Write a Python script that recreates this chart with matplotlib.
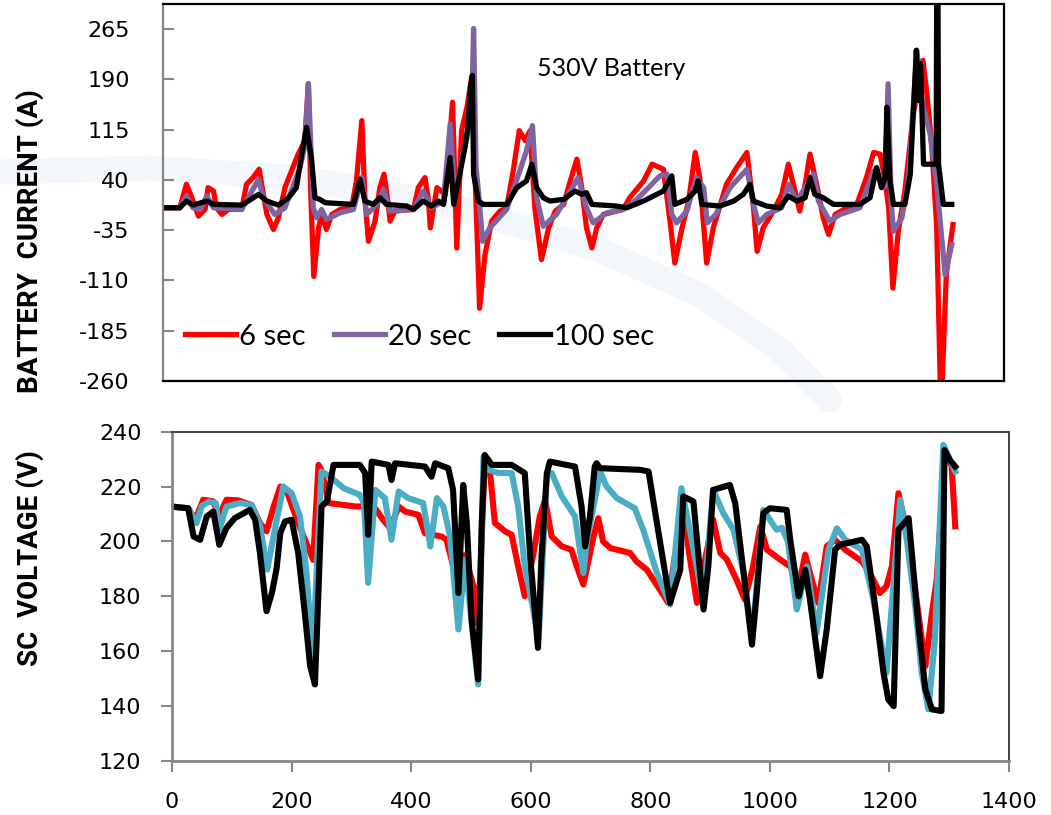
import matplotlib
matplotlib.use("Agg")
import matplotlib.pyplot as plt
from matplotlib.lines import Line2D

plt.rcParams["axes.unicode_minus"] = False

# ---- Battery current (A) vs time (s) ----
t_i6 = [0, 28, 39, 48, 59, 70, 75, 84, 89, 98, 109, 131, 139, 150, 160, 167, 173, 184, 192, 203,
        214, 225, 236, 242, 246, 251, 259, 264, 272, 281, 295, 314, 322, 331, 336, 342, 353, 361,
        368, 375, 378, 386, 417, 425, 436, 442, 445, 456, 470, 482, 489, 497, 506, 514, 519, 527,
        536, 547, 561, 572, 583, 593, 603, 611, 619, 630, 642, 653, 667, 678, 689, 697, 705, 714,
        722, 733, 766, 777, 800, 814, 833, 844, 852, 864, 875, 886, 894, 905, 916, 938, 955, 972,
        983, 989, 999, 1016, 1030, 1041, 1052, 1060, 1069, 1077, 1088, 1099, 1108, 1119, 1138,
        1155, 1171, 1183, 1194, 1202, 1208, 1215, 1224, 1235, 1249, 1265, 1271, 1280, 1288, 1295,
        1304, 1315]
i6 = [-1.5, -1.5, 33.5, 13.5, -14, -4, 28.5, 23.5, -1.5, -11.5, -4, -4, 33.5, 43.5, 56, 18.5,
      -11.5, -34, -16.5, 28.5, 53.5, 78.5, 98.5, 183.5, 20, -104, -31.5, -11.5, -34, -11.5, -4,
      -1.5, 38.5, 128.5, 13.5, -51.5, -21.5, 28.5, 48.5, 3.5, -21.5, -6.5, -4, 28.5, 43.5, 8.5,
      -31.5, 28.5, 18.5, 156, -61.5, 113.5, 148.5, 193.5, 60, -151.5, -71.5, -21.5, -6.5, -1.5,
      53.5, 113.5, 98.5, 113.5, -1.5, -79, -31.5, -6.5, 3.5, 38.5, 71, 28.5, -31.5, -61.5, -31.5,
      -11.5, -4, 13.5, 38.5, 63.5, 56, -21.5, -84, -31.5, 8.5, 81, 40, -84, -31.5, 33.5, 58.5, 81,
      -1.5, -66.5, -31.5, -6.5, 18.5, 63.5, 23.5, -6.5, 33.5, 78.5, 33.5, -16.5, -41.5, -11.5,
      -1.5, 3.5, 43.5, 81, 78.5, 38.5, -1.5, -121.5, -36.5, 23.5, 138.5, 218.5, 173.5, 88.5,
      -31.5, -310, -100, -26.5]

t_i20 = [0, 28, 39, 50, 62, 73, 84, 131, 145, 159, 167, 186, 203, 228, 236, 242, 250, 256, 264,
         272, 295, 317, 331, 339, 356, 367, 378, 417, 433, 447, 467, 478, 486, 497, 506, 514, 517,
         521, 525, 532, 544, 572, 592, 605, 615, 622, 633, 655, 678, 691, 705, 716, 739, 766, 789,
         827, 839, 847, 855, 872, 888, 900, 906, 920, 944, 972, 983, 991, 1005, 1030, 1041, 1055,
         1083, 1091, 1110, 1127, 1160, 1183, 1194, 1202, 1207, 1212, 1216, 1230, 1241, 1255, 1263,
         1277, 1288, 1302, 1313]
i20 = [-1.5, -1.5, 16, -1.5, -4, 16, -1.5, -4, 18.5, 41, 13.5, -11.5, -1.5, 58.5, 90, 183.5, -1.5,
       -16.5, -4, -19, -9, -4, 43.5, -11.5, 3.5, 26, -6.5, -4, 23.5, -1.5, 8.5, 123.5, 8.5, 70,
       103.5, 150, 266, 60, 23.5, -51.5, -31.5, -4, 48.5, 83.5, 121, 13.5, -29, -11.5, 23.5, 43.5,
       -1.5, -24, -9, -4, 11, 46, 48.5, -11.5, -24, -6.5, 43.5, 28.5, -24, -11.5, 28.5, 56, 3.5,
       -24, -11.5, -1.5, 33.5, 8.5, 48.5, 8.5, -21.5, -11.5, -1.5, 53.5, 38.5, 30, 183.5, 10,
       -36.5, -16.5, 38.5, 233.5, 158.5, 108.5, 33.5, -101.5, -56.5]

t_i100 = [0, 28, 39, 50, 73, 84, 131, 142, 159, 173, 192, 209, 222, 231, 239, 247, 253, 261, 270,
          317, 328, 336, 350, 361, 372, 406, 417, 433, 447, 458, 467, 478, 484, 494, 503, 508, 512,
          515, 517, 525, 533, 572, 589, 605, 614, 622, 633, 644, 667, 686, 697, 705, 714, 755, 772,
          800, 833, 847, 852, 872, 886, 891, 897, 927, 950, 966, 977, 983, 1005, 1027, 1041, 1055,
          1069, 1077, 1085, 1099, 1116, 1160, 1177, 1188, 1196, 1202, 1205, 1210, 1216, 1235, 1244,
          1254, 1258, 1261, 1266, 1287, 1288, 1290, 1291, 1299, 1313]
i100 = [-1.5, -1.5, 8.5, 2.5, 8.5, 3.5, 2.5, 8.5, 18.5, 8.5, 2.5, 13.5, 28.5, 78.5, 118.5, 73.5,
        13.5, 11, 6, 3.5, 41, 8.5, 3.5, 13.5, 3.5, 1, -4, 8.5, 1, 8.5, 3.5, 73.5, 3.5, 48.5, 90,
        123.5, 178.5, 196, 48.5, 8.5, 3.5, 3.5, 28.5, 38.5, 63.5, 28.5, 13.5, 8.5, 11, 23.5, 18.5,
        21, 3.5, 1, -1.5, 8.5, 23.5, 46, 3.5, 11, 23.5, 38.5, 3.5, 1, 8.5, 18.5, 33.5, 8.5, 1, -1.5,
        16, 8.5, 13.5, 43.5, 18.5, 13.5, 3.5, 3.5, 13.5, 58.5, 28.5, 43.5, 148.5, 40, 3.5, 3.5,
        48.5, 233.5, 158.5, 213.5, 63.5, 63.5, 330, 330, 63.5, 3.5, 3.5]

# ---- Supercapacitor voltage (V) vs time (s) ----
t_v6 = [0, 27, 39, 52, 69, 78, 91, 110, 133, 147, 158, 170, 181, 192, 211, 236, 245, 250, 262,
        309, 330, 340, 353, 365, 379, 390, 412, 423, 451, 459, 476, 490, 504, 507, 515, 523, 532,
        540, 557, 568, 579, 590, 604, 615, 624, 635, 652, 668, 677, 688, 705, 713, 721, 733, 766,
        777, 794, 816, 830, 841, 858, 864, 878, 893, 905, 917, 928, 944, 958, 971, 984, 995, 1017,
        1034, 1048, 1059, 1070, 1081, 1095, 1109, 1126, 1154, 1170, 1184, 1195, 1204, 1215, 1226,
        1243, 1260, 1271, 1279, 1293, 1304, 1310]
v6 = [212.7, 212.1, 207.9, 215.2, 214.6, 209.1, 215.2, 215, 213.3, 206.7, 203.7, 212.7, 220,
      218.2, 206.7, 193.3, 227.9, 226, 214, 212.7, 213, 212, 207.9, 204.8, 212.7, 210.9, 209.7,
      203, 201.8, 200.6, 186.1, 195, 183.7, 170.3, 185, 229.7, 224.9, 206.7, 203.7, 202.4, 190.9,
      180, 195, 209.1, 215.2, 201.8, 198.2, 197, 190.9, 184.3, 201.8, 208.5, 200, 197.6, 195.8,
      192.7, 189.7, 182.4, 177.6, 194.6, 209.7, 197, 177.6, 195, 207.9, 195.8, 193.4, 186.1,
      178.8, 190, 205.5, 197, 193.4, 190.9, 183.7, 195.2, 186.1, 177.6, 198.2, 200.6, 197, 192.7,
      187.3, 181.2, 183.7, 190.9, 217.6, 206.7, 182.4, 154.6, 174, 186.1, 233.3, 227.3, 205.5]

t_v20 = [0, 27, 41, 50, 62, 73, 79, 91, 114, 133, 147, 159, 172, 186, 200, 214, 225, 235, 250,
         264, 287, 314, 321, 328, 340, 356, 367, 379, 395, 420, 432, 443, 454, 465, 479, 490, 504,
         512, 521, 529, 545, 568, 579, 590, 602, 613, 627, 635, 652, 674, 688, 694, 707, 716, 727,
         744, 774, 788, 811, 833, 852, 866, 889, 905, 922, 939, 956, 970, 989, 1011, 1020, 1030,
         1037, 1045, 1062, 1078, 1098, 1112, 1126, 1154, 1173, 1195, 1218, 1229, 1243, 1254, 1265,
         1276, 1290, 1310]
v20 = [212.7, 212.1, 206.7, 213, 214.5, 214, 204.3, 212.7, 214, 213.3, 206, 189.7, 204.3, 220,
       217.6, 209.1, 188.5, 158.2, 225.5, 223.7, 219.4, 217, 214, 184.9, 218.8, 215.8, 200.6,
       218.2, 215.8, 214, 198.2, 215.8, 212.7, 201.8, 167.9, 193.4, 164.3, 147.9, 230.9, 226.1,
       225, 224.9, 212.7, 190.9, 177.6, 164.3, 224.9, 224.9, 216.4, 209.1, 188.5, 200.6, 215,
       225.5, 220, 215.8, 212.1, 204.3, 188.5, 177, 219.4, 204.3, 177.6, 218.8, 210.3, 204.3,
       188.5, 164.3, 211.5, 204.3, 205, 200, 188.5, 175.2, 190.9, 166.7, 197, 204.8, 200.6, 197,
       178.8, 152.1, 215.2, 200.6, 176.4, 152.1, 138.8, 164.3, 235.2, 225.5]

t_v100 = [0, 27, 36, 47, 58, 69, 79, 91, 105, 130, 139, 147, 158, 167, 175, 181, 189, 200, 211,
          222, 231, 239, 245, 250, 259, 270, 314, 323, 328, 334, 362, 367, 373, 423, 434, 440, 462,
          470, 479, 487, 493, 501, 512, 518, 523, 535, 568, 590, 599, 612, 618, 627, 632, 674, 685,
          691, 699, 707, 710, 716, 783, 797, 811, 833, 850, 855, 872, 889, 897, 905, 933, 942, 956,
          970, 978, 989, 1000, 1028, 1034, 1048, 1059, 1067, 1084, 1095, 1109, 1117, 1154, 1162,
          1176, 1190, 1198, 1207, 1215, 1232, 1248, 1260, 1271, 1287, 1292, 1301, 1310]
v100 = [212.7, 212.1, 201.8, 200.6, 209.1, 210.9, 198.8, 204.9, 208.5, 211.5, 207.9, 195.8,
        174.6, 181.2, 190.3, 203, 207.3, 207.9, 195.8, 174, 154.6, 147.9, 182.4, 212.7, 214.6,
        227.9, 227.9, 224.9, 202.4, 229.1, 227.9, 222.4, 228.5, 227.3, 223.6, 228.5, 226.7, 218.8,
        181.2, 220.6, 206.7, 171.5, 149.7, 206.7, 231.5, 227.9, 227.9, 224.9, 194.6, 161.2, 194.6,
        224.9, 229.1, 227.3, 212.7, 198.2, 209.1, 227.3, 228.5, 226.7, 226.1, 225.5, 206.7, 177.6,
        189.7, 216.4, 214.6, 175.2, 190.9, 218.8, 220.6, 213.9, 188.5, 162.4, 181.2, 210.3, 212.1,
        211.5, 200.6, 180, 189.7, 178.8, 150.9, 167.9, 197, 198.8, 200.6, 198.2, 176.4, 152.1,
        142.4, 140, 204.3, 208.5, 170.3, 146.1, 138.8, 138.2, 233.3, 229.7, 227.3]

cur_ticks = [-260, -185, -110, -35, 40, 115, 190, 265]
volt_ticks = [120, 140, 160, 180, 200, 220, 240]
time_ticks = [0, 200, 400, 600, 800, 1000, 1200, 1400]
legend_labels = ["6 sec", "20 sec", "100 sec"]

RED = "#FF0000"
PURPLE = "#8064A2"
TEAL = "#4BACC6"
GRAY = "#868686"

fig = plt.figure(figsize=(10.51, 8.15), dpi=100)
fig.patch.set_facecolor("white")

# very faint background swoosh behind the panels
W, H = 1051, 815
swoosh_x = [0, 150, 300, 450, 600, 700, 780, 830]
swoosh_y = [172, 168, 178, 205, 250, 295, 350, 400]
fig.add_artist(Line2D([x / W for x in swoosh_x], [1 - y / H for y in swoosh_y],
                      transform=fig.transFigure, color="#F3F6FA", lw=18,
                      solid_capstyle="round", solid_joinstyle="round", zorder=0))

# ---------------- current panel ----------------
ax1 = fig.add_axes([0.1551, 0.5325, 0.8002, 0.4626])
ax1.set_facecolor("none")
lw = 3.8
ax1.plot(t_i6, i6, color=RED, lw=lw, solid_joinstyle="round", label=legend_labels[0])
ax1.plot(t_i20, i20, color=PURPLE, lw=lw, solid_joinstyle="round", label=legend_labels[1])
ax1.plot(t_i100, i100, color="black", lw=lw, solid_joinstyle="round", label=legend_labels[2])
ax1.set_xlim(0, 1400)
ax1.set_ylim(-260, 302.5)
ax1.set_yticks(cur_ticks)
ax1.set_xticks([])
ax1.tick_params(axis="y", direction="in", length=8, width=1.5, color=GRAY, pad=24,
                labelsize=16, labelcolor="black")
for s in ["top", "right", "bottom"]:
    ax1.spines[s].set_color("black")
    ax1.spines[s].set_linewidth(1.6)
ax1.spines["left"].set_color(GRAY)
ax1.spines["left"].set_linewidth(1.6)

ax1.text(0.445, 0.830, "530V Battery", transform=ax1.transAxes, fontsize=18,
         family="Lato", va="center", ha="left")

ax1.legend(loc="center left", bbox_to_anchor=(0.026, 0.118), ncol=3, frameon=False,
           prop={"family": "Lato", "size": 21}, handlelength=1.75, handletextpad=0.12,
           columnspacing=0.95, borderpad=0, borderaxespad=0)

# ---------------- voltage panel ----------------
ax2 = fig.add_axes([0.1637, 0.0663, 0.7964, 0.4040])
ax2.set_facecolor("none")
lw2 = 4.4
ax2.plot(t_v6, v6, color=RED, lw=lw2, solid_joinstyle="round")
ax2.plot(t_v20, v20, color=TEAL, lw=lw2, solid_joinstyle="round")
ax2.plot(t_v100, v100, color="black", lw=lw2, solid_joinstyle="round")
ax2.set_xlim(0, 1400)
ax2.set_ylim(120, 240)
ax2.set_yticks(volt_ticks)
ax2.set_xticks(time_ticks)
ax2.tick_params(direction="out", length=8, width=1.5, color=GRAY, labelsize=16,
                labelcolor="black")
ax2.tick_params(axis="y", pad=14)
ax2.tick_params(axis="x", pad=14)
for s in ["left", "bottom"]:
    ax2.spines[s].set_color(GRAY)
    ax2.spines[s].set_linewidth(2)
for s in ["top", "right"]:
    ax2.spines[s].set_color("#404040")
    ax2.spines[s].set_linewidth(1.4)

# axis titles
fig.text(30 / W, 1 - 241 / H, "BATTERY  CURRENT (A)", rotation=90, ha="center",
         va="center", fontsize=20, fontweight="bold", family="Roboto")
fig.text(30 / W, 1 - 558 / H, "SC  VOLTAGE (V)", rotation=90, ha="center",
         va="center", fontsize=20, fontweight="bold", family="Roboto")

fig.savefig("out.png", dpi=100)
